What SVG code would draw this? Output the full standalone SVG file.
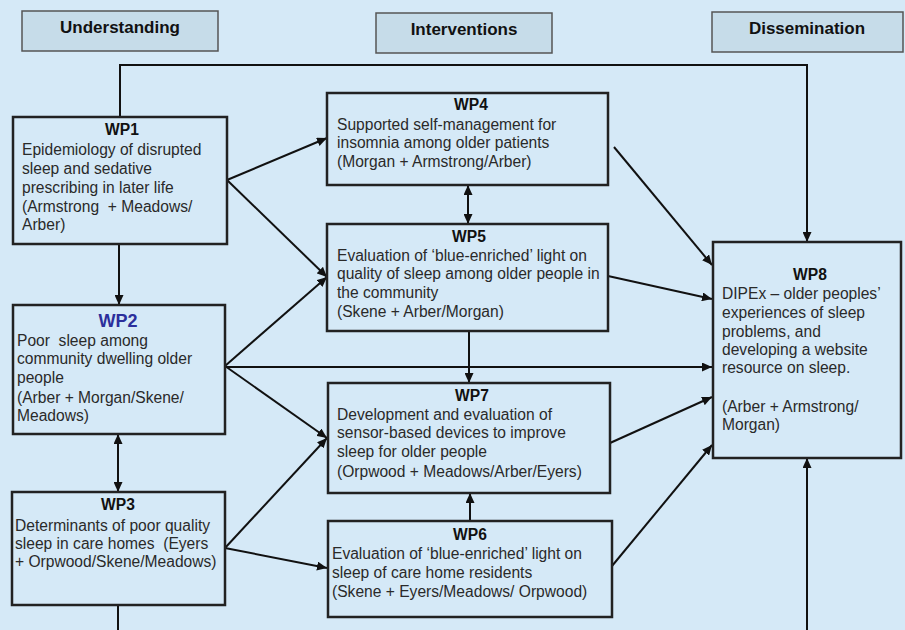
<svg xmlns="http://www.w3.org/2000/svg" width="905" height="630" viewBox="0 0 905 630">
<defs>
<style>
.bg{fill:#d5e9f7}
.hdr rect{fill:#c6dce9;stroke:#555;stroke-width:1.5}
.hdr text{font-family:"Liberation Sans",Arial,sans-serif;font-weight:bold;font-size:17px;fill:#111;text-anchor:middle}
.node rect{fill:#d5e9f7;stroke:#222;stroke-width:2.5}
.node text{font-family:"Liberation Sans",Arial,sans-serif;font-size:15.6px;fill:#2a2a2a}
.node .t{font-weight:bold;text-anchor:middle;fill:#111}
.node .tb{font-weight:bold;text-anchor:middle;fill:#2c2f9c;font-size:18px}
.conn path{fill:none;stroke:#111;stroke-width:2}
</style>
<marker id="ah" markerUnits="userSpaceOnUse" markerWidth="11" markerHeight="9" refX="10" refY="4.5" orient="auto-start-reverse">
<path d="M0,0 L10,4.5 L0,9 Z" fill="#111"/>
</marker>
</defs>
<rect class="bg" x="0" y="0" width="905" height="630"/>

<g id="hdr-understanding" class="hdr"><rect x="22" y="11" width="196" height="40"/><text x="120" y="33">Understanding</text></g>
<g id="hdr-interventions" class="hdr"><rect x="376" y="13" width="176" height="40"/><text x="464" y="35">Interventions</text></g>
<g id="hdr-dissemination" class="hdr"><rect x="712" y="12" width="191" height="40"/><text x="807" y="34">Dissemination</text></g>

<g class="conn" id="connectors">
<path d="M120,117 V65 H807 V242" marker-end="url(#ah)"/>
<path d="M119,244 V305" marker-end="url(#ah)"/>
<path d="M118,434 V492" marker-start="url(#ah)" marker-end="url(#ah)"/>
<path d="M118,605 V630"/>
<path d="M807,630 V458" marker-end="url(#ah)"/>
<path d="M227,180 L327,138" marker-end="url(#ah)"/>
<path d="M227,180 L327,277" marker-end="url(#ah)"/>
<path d="M225,366 L327,277" marker-end="url(#ah)"/>
<path d="M225,367 H712" marker-end="url(#ah)"/>
<path d="M225,366 L327,438" marker-end="url(#ah)"/>
<path d="M225,548 L327,438" marker-end="url(#ah)"/>
<path d="M225,548 L327,568" marker-end="url(#ah)"/>
<path d="M468,185 V224" marker-start="url(#ah)" marker-end="url(#ah)"/>
<path d="M469,331 V383" marker-end="url(#ah)"/>
<path d="M470,521 V493" marker-end="url(#ah)"/>
<path d="M614,147 L712,265" marker-end="url(#ah)"/>
<path d="M608,276 L712,299" marker-end="url(#ah)"/>
<path d="M610,443 L712,397" marker-end="url(#ah)"/>
<path d="M612,566 L712,445" marker-end="url(#ah)"/>
</g>

<g id="wp1" class="node">
<rect x="13" y="117" width="214" height="127"/>
<text class="t" x="122" y="135">WP1</text>
<text x="22" y="155">Epidemiology of disrupted</text>
<text x="22" y="174">sleep and sedative</text>
<text x="22" y="193">prescribing in later life</text>
<text x="22" y="212" xml:space="preserve">(Armstrong  + Meadows/</text>
<text x="22" y="230">Arber)</text>
</g>

<g id="wp2" class="node">
<rect x="13" y="305" width="212" height="129"/>
<text class="tb" x="118" y="327">WP2</text>
<text x="17" y="346" xml:space="preserve">Poor  sleep among</text>
<text x="17" y="364">community dwelling older</text>
<text x="17" y="383">people</text>
<text x="17" y="403">(Arber + Morgan/Skene/</text>
<text x="17" y="421">Meadows)</text>
</g>

<g id="wp3" class="node">
<rect x="12" y="492" width="213" height="113"/>
<text class="t" x="118" y="510">WP3</text>
<text x="15" y="531">Determinants of poor quality</text>
<text x="15" y="549" xml:space="preserve">sleep in care homes  (Eyers</text>
<text x="15" y="567">+ Orpwood/Skene/Meadows)</text>
</g>

<g id="wp4" class="node">
<rect x="327" y="93" width="281" height="92"/>
<text class="t" x="471" y="110">WP4</text>
<text x="337" y="130">Supported self-management for</text>
<text x="337" y="148">insomnia among older patients</text>
<text x="337" y="167">(Morgan + Armstrong/Arber)</text>
</g>

<g id="wp5" class="node">
<rect x="327" y="224" width="281" height="107"/>
<text class="t" x="469" y="242">WP5</text>
<text x="337" y="261">Evaluation of ‘blue-enriched’ light on</text>
<text x="337" y="279">quality of sleep among older people in</text>
<text x="337" y="298">the community</text>
<text x="337" y="317">(Skene + Arber/Morgan)</text>
</g>

<g id="wp7" class="node">
<rect x="328" y="383" width="282" height="110"/>
<text class="t" x="472" y="401">WP7</text>
<text x="337" y="420">Development and evaluation of</text>
<text x="337" y="438">sensor-based devices to improve</text>
<text x="337" y="457">sleep for older people</text>
<text x="337" y="477">(Orpwood + Meadows/Arber/Eyers)</text>
</g>

<g id="wp6" class="node">
<rect x="328" y="521" width="284" height="96"/>
<text class="t" x="470" y="540">WP6</text>
<text x="332" y="559">Evaluation of ‘blue-enriched’ light on</text>
<text x="332" y="578">sleep of care home residents</text>
<text x="332" y="597">(Skene + Eyers/Meadows/ Orpwood)</text>
</g>

<g id="wp8" class="node">
<rect x="713" y="242" width="188" height="216"/>
<text class="t" x="810" y="280">WP8</text>
<text x="722" y="299">DIPEx – older peoples’</text>
<text x="722" y="318">experiences of sleep</text>
<text x="722" y="337">problems, and</text>
<text x="722" y="355">developing a website</text>
<text x="722" y="373">resource on sleep.</text>
<text x="722" y="412">(Arber + Armstrong/</text>
<text x="722" y="430">Morgan)</text>
</g>
</svg>
